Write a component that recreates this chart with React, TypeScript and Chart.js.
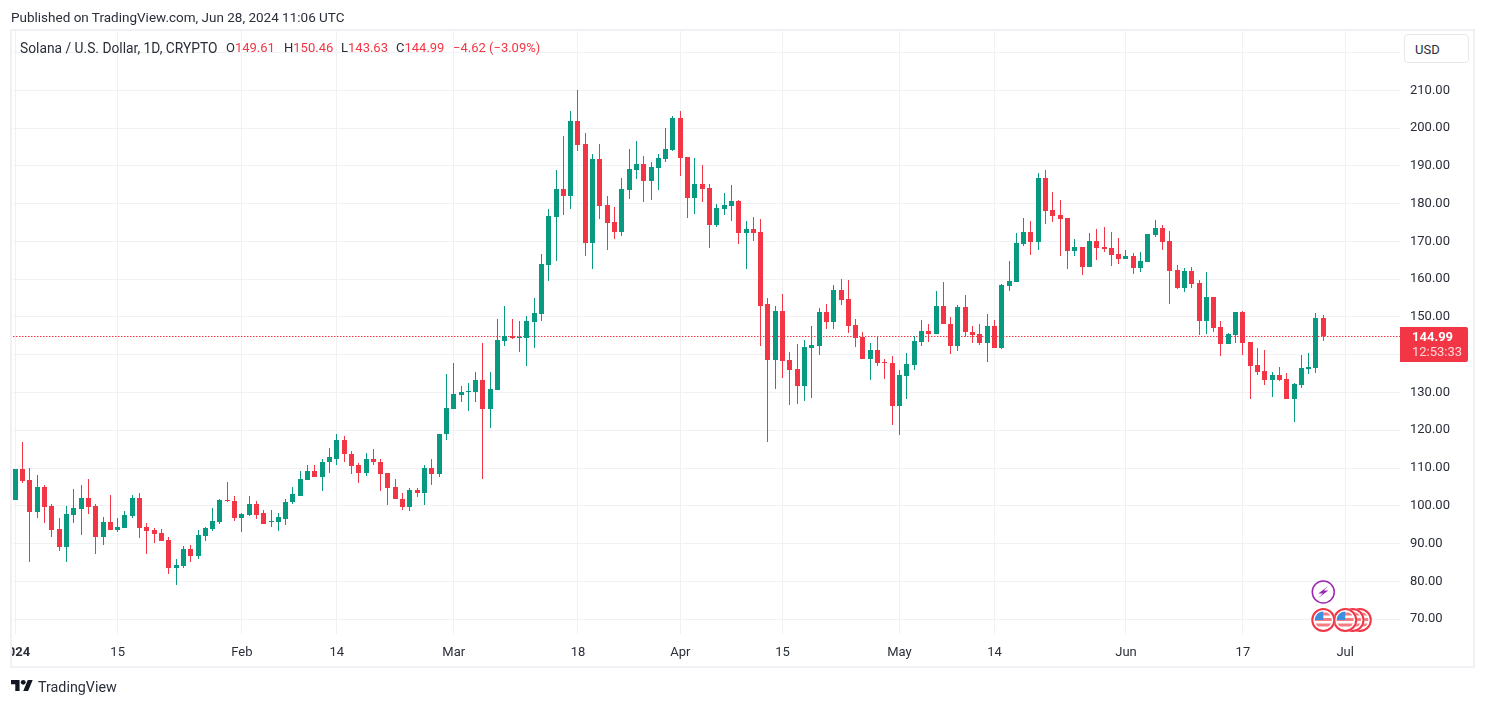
import React, { useEffect, useRef } from "react";
import { Chart, registerables } from "chart.js";

Chart.register(...registerables);

const opens = [
  101.6,109.8,106.9,98.4,105,100,93.9,89.2,97.6,99.2,
  102.1,100,91.8,95.8,93.7,94.2,97.4,102.1,94.5,93.7,
  92.9,91,83.6,84.1,88.6,86.8,92.1,93.9,95.8,101.6,
  101.3,96.8,97.6,100.6,98,95.6,95.6,96.6,100.9,102.7,
  106.7,109.1,107.5,111.5,112.5,117.3,113.8,110.7,108.8,112.5,
  111.7,108.6,105.1,101.9,99.8,104.1,103.3,110.1,108.3,118.9,
  125.7,129.4,130.2,130.2,133.4,125.5,130.7,143.7,145,144.5,
  144.5,148.7,150.8,163.8,176.5,183.9,182,201.9,195.8,169.6,
  191.8,179.7,175.2,172.6,183.7,189,190.6,186,189.5,191.9,
  194.3,202.7,192.4,181.6,185.3,184.2,174.4,178.7,179.5,180.8,
  172.3,173.4,172.6,153.3,138.5,151.6,138.7,136.3,131.8,141.8,
  142.4,151.4,148.7,157.2,154.8,147.9,144.8,138.9,141.3,138.1,
  137.9,126.5,134.4,137.3,143.4,146.3,145.5,153,148.2,142.2,
  152.7,146.1,145.6,143.2,147.7,141.9,158.2,159.3,169.3,172.5,
  169.8,186.7,178.2,176.9,176.1,167.5,168.5,163.2,170.1,168.5,
  168.2,166.7,165.3,166.1,163,164.5,171.7,173.5,170.1,162.4,
  157.7,162.2,159,148.9,155.3,147.3,142.8,145.2,151.3,143.4,
  137.3,135.7,133.3,134.6,133.6,128.3,132,136.2,136.5,149.61,
];
const highs = [
  109.8,117,110.1,108.2,105.6,100.6,96.8,100,104.5,105.6,
  107.2,100.6,97.1,102.9,96.8,98.7,102.9,103.5,95.5,94.2,
  93.9,91.8,86,89.4,89.7,93.7,94.5,99.5,101.9,106.4,
  102.7,98.2,102.7,101.3,98.8,98.8,98,101.7,105.1,109.3,
  110.9,110.7,112.3,115.2,118.9,118.6,114.4,111.2,114.1,114.9,
  112.3,108.6,107.2,103.3,104.8,104.6,110.9,112.5,119.1,135,
  137.9,131.8,132.4,135.3,143,135.3,149.5,152.9,149.5,149,
  150.3,155,166.7,178.6,188.9,197.9,204.5,210.1,198.7,193.2,
  195.8,182,179.2,186.9,194.5,196.7,192.7,191.1,193.2,200.1,
  203.3,204.6,192.4,192.2,190.3,185.3,180,182.9,184.8,181,
  175.5,176.5,176,155.1,153,156.1,140.8,142.9,144,147.7,
  152.4,153.5,158.5,160.1,159.8,149.5,146.1,143.2,144.8,138.9,
  139.7,136,140.5,145,149.2,148.2,156.9,159.3,150.1,153.2,
  155.9,147.7,148,150.9,149.3,158.8,164.8,172.2,176.1,175.3,
  188.2,188.8,183.2,180.9,176.1,170.6,168.5,172.2,173.2,173.8,
  172.5,170.9,167.7,166.9,167.2,172,175.6,174.3,172.7,163.7,
  162.9,163.2,159.8,161.9,155.3,148.9,145.7,151.3,151.6,143.4,
  141.8,141.3,135.4,136.8,135.2,132.5,139.9,140.5,151,150.46,
];
const lows = [
  101.6,106.1,85.2,96.8,95.5,91.8,87.9,85.2,95.5,92.3,
  97.9,87.1,89.7,93.7,93.1,94.2,96.8,91.6,87.1,90.2,
  90.8,82,79.1,83.4,85.2,86,90.8,93.4,95.3,101.1,
  96,93.1,97.4,96.6,95.3,94.3,93.2,94.8,100.6,102.7,
  106.7,107.5,103.8,108.6,110.9,111.7,108.3,105.9,107.8,110.9,
  103.8,100.3,101.7,98.8,98.5,102.2,100.3,105.6,107.5,117.5,
  125.7,127.6,125,127.6,107,120.5,130.7,142.3,144.2,140.8,
  137.1,141.8,149,159.6,164.8,177,178.6,193.9,166.2,162.7,
  176,167.8,170.7,171.5,181.3,186.6,180.5,181,183.7,191.1,
  194,187.4,176.3,177.3,180.5,168.3,173.9,177.1,175.5,169.4,
  162.8,170.2,142.2,117,130.8,133.9,126.8,127,127.8,128.6,
  140,146.9,146.9,153.2,145.8,142.1,138.9,133.4,137.1,133.6,
  121.5,118.8,128.3,136,142.4,143.4,145.5,148,140.3,140.9,
  144.8,143.2,142.7,138,141.9,141.4,156.9,159.3,168.8,166.4,
  167.7,174.6,175.1,166.1,162.7,166.1,161.1,163.2,165.1,167.2,
  163.5,164,165.3,161.4,161.9,164.5,171.2,167.7,153.4,157.4,
  156.6,157.7,145.2,145.5,146,139.7,142.8,143.1,139.9,128.3,
  134.6,132,128.8,133,128.3,122.2,131.2,134.9,135.2,143.63,
];
const closes = [
  109.8,106.6,98.4,105,99.8,93.7,89.2,97.9,99.5,102.1,
  99.8,91.8,95.8,93.7,94.5,97.6,102.1,94.2,93.4,92.6,
  90.8,83.6,84.4,88.6,86.8,92.3,94.2,96.1,101.6,101.3,
  96.8,97.9,100.6,97.6,95.3,95.9,96.9,101.1,103,107,
  109.1,107.5,111.7,112.8,117.3,113.6,110.4,108.8,112.5,111.5,
  108.3,104.8,101.7,99.8,104.1,103.3,110.1,108.3,119.1,126,
  129.7,130.2,130.5,133.4,125.5,131,143.9,145,144.5,144.7,
  149,151.1,164,176.8,183.9,182,201.9,195.5,169.6,191.8,
  179.4,175,172.6,184,189.2,190.6,186,189.8,192.2,194.5,
  202.7,192.2,181.6,185.3,184,174.4,178.9,179.7,180.8,172.3,
  173.4,172.3,153,138.5,151.7,138.4,136,131.8,142.1,142.6,
  151.4,148.7,157.2,154.5,147.7,144.5,138.9,141.3,137.9,137.9,
  126.5,134.7,137.6,143.7,146.3,145.5,153,148,142.2,152.7,
  145.9,145.3,143.2,147.7,141.9,158.5,159.6,169.6,172.5,169.8,
  186.7,178,176.7,175.9,167.5,168.5,163.2,170.1,168.2,168,
  166.4,165.3,166.1,163,164.8,172,173.5,169.8,162.2,157.7,
  162.2,158.7,148.9,155.3,147,142.8,145.5,151.3,143.1,137,
  135.4,133.3,134.6,133.3,128.3,132.3,136.5,136.8,149.61,144.99,
];

const xTickDays = [0, 14, 31, 44, 60, 77, 91, 105, 121, 134, 152, 168, 182];
const xTickLabels = ["2024", "15", "Feb", "14", "Mar", "18", "Apr", "15", "May", "14", "Jun", "17", "Jul"];
const yTickValues = [70, 80, 90, 100, 110, 120, 130, 140, 150, 160, 170, 180, 190, 200, 210, 220];
const lastPrice = 144.99;
const countdown = "12:53:33";
const lightningDays = [179];
const usEventDays = [184, 183, 182, 179];

const RED = "#f23645";
const GREEN = "#089981";
const GRID = "#f0f1f4";
const FRAME = "#f0f0f5";
const TEXT = "#2a2e39";
const FONT = "Roboto, sans-serif";

const colors = closes.map((c, i) => (c >= opens[i] ? GREEN : RED));

const snapBars = {
  id: "snapBars",
  afterDatasetsUpdate(chart: any) {
    chart.data.datasets.forEach((ds: any, di: number) => {
      const w = ds.barThickness;
      chart.getDatasetMeta(di).data.forEach((el: any) => {
        el.x = Math.floor(el.x) + 0.5;
        el.width = w;
        let a = Math.round(Math.min(el.y, el.base));
        let b = Math.round(Math.max(el.y, el.base));
        if (b - a < 1) b = a + 1;
        el.y = a;
        el.base = b;
      });
    });
  },
};

function drawFlag(ctx: CanvasRenderingContext2D, x: number, y: number) {
  ctx.save();
  ctx.beginPath();
  ctx.arc(x, y, 12, 0, Math.PI * 2);
  ctx.fillStyle = "#ffffff";
  ctx.fill();
  ctx.beginPath();
  ctx.arc(x, y, 11, 0, Math.PI * 2);
  ctx.strokeStyle = RED;
  ctx.lineWidth = 2;
  ctx.stroke();
  ctx.beginPath();
  ctx.arc(x, y, 8.5, 0, Math.PI * 2);
  ctx.clip();
  ctx.fillStyle = "#ffffff";
  ctx.fillRect(x - 10, y - 10, 20, 20);
  ctx.fillStyle = "#f77c80";
  for (let k = 0; k < 3; k++) ctx.fillRect(x - 10, y - 7.5 + k * 5.5, 20, 3);
  ctx.fillStyle = "#3d8fe0";
  ctx.fillRect(x - 10, y - 10, 10, 10);
  ctx.restore();
}

function drawBolt(ctx: CanvasRenderingContext2D, x: number, y: number) {
  ctx.save();
  ctx.beginPath();
  ctx.arc(x, y, 11, 0, Math.PI * 2);
  ctx.fillStyle = "#ffffff";
  ctx.fill();
  ctx.strokeStyle = "#9c27b0";
  ctx.lineWidth = 1.5;
  ctx.stroke();
  ctx.beginPath();
  ctx.moveTo(x + 5, y - 6);
  ctx.lineTo(x - 5, y + 1.5);
  ctx.lineTo(x - 0.5, y + 1.5);
  ctx.lineTo(x - 5, y + 6);
  ctx.lineTo(x + 5, y - 1.5);
  ctx.lineTo(x + 0.5, y - 1.5);
  ctx.closePath();
  ctx.fillStyle = "#9c27b0";
  ctx.fill();
  ctx.restore();
}

const priceLine = {
  id: "priceLine",
  beforeDatasetsDraw(chart: any) {
    const { ctx, chartArea, scales } = chart;
    const y = Math.round(scales.y.getPixelForValue(lastPrice)) + 0.5;
    ctx.save();
    ctx.strokeStyle = RED;
    ctx.lineWidth = 1;
    ctx.setLineDash([1.5, 1.5]);
    ctx.beginPath();
    ctx.moveTo(Math.round(chartArea.left), y);
    ctx.lineTo(Math.round(chartArea.right), y);
    ctx.stroke();
    ctx.restore();
  },
};

const overlay = {
  id: "overlay",
  afterDraw(chart: any) {
    const { ctx, chartArea, scales } = chart;
    const right = chartArea.right;
    const y = Math.round(scales.y.getPixelForValue(lastPrice));

    // clip the time label at the frame edge
    ctx.fillStyle = "#ffffff";
    ctx.fillRect(0, chartArea.bottom, chartArea.left - 2, 34);

    // frame
    ctx.strokeStyle = FRAME;
    ctx.lineWidth = 2;
    ctx.strokeRect(11, chartArea.top, 1463, 637);

    // price tag
    ctx.fillStyle = RED;
    ctx.beginPath();
    ctx.roundRect(right, y - 9, 68, 35, [0, 2, 2, 0]);
    ctx.fill();
    ctx.textAlign = "left";
    ctx.textBaseline = "middle";
    ctx.fillStyle = "#ffffff";
    ctx.font = `bold 13px ${FONT}`;
    ctx.fillText(lastPrice.toFixed(2), right + 12, y + 2);
    ctx.fillStyle = "rgba(255,255,255,0.8)";
    ctx.font = `13px ${FONT}`;
    ctx.fillText(countdown, right + 12, y + 17);

    // events
    const base = chartArea.bottom;
    lightningDays.forEach((d) => drawBolt(ctx, scales.x.getPixelForValue(d), base - 42));
    usEventDays.forEach((d) => drawFlag(ctx, scales.x.getPixelForValue(d), base - 14));
  },
};

const abs = (left: number, top: number, extra: any = {}) => ({
  position: "absolute" as const,
  left,
  top,
  font: `13px ${FONT}`,
  lineHeight: "16px",
  color: TEXT,
  whiteSpace: "pre" as const,
  ...extra,
});

const legendRed = [
  { label: "O", value: "149.61", x: 226 },
  { label: "H", value: "150.46", x: 284 },
  { label: "L", value: "143.63", x: 341 },
  { label: "C", value: "144.99", x: 396 },
];

export default function App() {
  const ref = useRef<HTMLCanvasElement>(null);
  useEffect(() => {
    const xs = closes.map((_, i) => i);
    const chart = new Chart(ref.current!, {
      type: "bar",
      data: {
        datasets: [
          {
            data: xs.map((i) => ({ x: i, y: [Math.min(opens[i], closes[i]), Math.max(opens[i], closes[i])] })),
            backgroundColor: colors,
            barThickness: 5,
            grouped: false,
            inflateAmount: 0,
          },
          {
            data: xs.map((i) => ({ x: i, y: [lows[i], highs[i]] })),
            backgroundColor: colors,
            barThickness: 1,
            grouped: false,
            inflateAmount: 0,
          },
        ] as any,
      },
      options: {
        animation: false,
        responsive: false,
        layout: { padding: { left: 13, top: 30, right: 11, bottom: 39 } },
        plugins: { legend: { display: false }, tooltip: { enabled: false } },
        scales: {
          x: {
            type: "linear",
            offset: false,
            min: -0.319,
            max: 189.5,
            border: { display: false },
            grid: { color: GRID, drawTicks: false, offset: false },
            afterBuildTicks: (s: any) => {
              s.ticks = xTickDays.map((v) => ({ value: v }));
            },
            afterFit: (s: any) => {
              s.height = 33;
              s.paddingLeft = 0;
              s.paddingRight = 0;
            },
            ticks: {
              autoSkip: false,
              maxRotation: 0,
              padding: 11,
              color: TEXT,
              font: (c: any) => ({ family: FONT, size: 13, weight: c.tick && c.tick.value === 0 ? "bold" : "normal" }),
              callback: (v: any) => xTickLabels[xTickDays.indexOf(v)] ?? "",
            },
          },
          y: {
            type: "linear",
            position: "right",
            min: 66.05,
            max: 225.97,
            border: { display: false },
            grid: { color: GRID, drawTicks: false },
            afterBuildTicks: (s: any) => {
              s.ticks = yTickValues.map((v) => ({ value: v }));
            },
            afterFit: (s: any) => {
              s.width = 74;
              s.paddingTop = 0;
              s.paddingBottom = 0;
            },
            ticks: {
              autoSkip: false,
              crossAlign: "near",
              padding: 10,
              color: TEXT,
              font: { family: FONT, size: 13 },
              callback: (v: any) => (v >= 220 ? "" : Number(v).toFixed(2)),
            },
          },
        } as any,
      },
      plugins: [snapBars, priceLine, overlay],
    } as any);
    return () => chart.destroy();
  }, []);

  return (
    <div style={{ position: "absolute", left: 0, top: 0, width: 1485, height: 706, background: "#fff", overflow: "hidden" }}>
      <canvas ref={ref} width={1485} height={706} style={{ position: "absolute", left: 0, top: 0, display: "block" }} />
      <div style={abs(11, 9, { fontSize: "13.5px" })}>Published on TradingView.com, Jun 28, 2024 11:06 UTC</div>
      <div style={abs(20, 40, { fontSize: "13.8px" })}>Solana / U.S. Dollar, 1D, CRYPTO</div>
      {legendRed.map((l) => (
        <div key={l.label} style={abs(l.x, 40)}>
          {l.label}
          <span style={{ color: RED }}>{l.value}</span>
        </div>
      ))}
      <div style={abs(453, 40, { color: RED })}>−4.62 (−3.09%)</div>
      <div
        style={abs(1404, 34, {
          width: 65,
          height: 29,
          border: "1px solid #e8e8ec",
          borderRadius: 4,
          boxSizing: "border-box",
          lineHeight: "29px",
          paddingLeft: 10,
          background: "#fff",
        })}
      >
        USD
      </div>
      <svg style={{ position: "absolute", left: 11, top: 677 }} width="22" height="18" viewBox="0 0 36 28">
        <path d="M14 22H7V11H0V4h14v18zM28 22h-8l7.5-18h8L28 22z" fill="#131722" />
        <circle cx="20" cy="8" r="4" fill="#131722" />
      </svg>
      <div style={abs(38, 679, { fontSize: "14.3px" })}>TradingView</div>
    </div>
  );
}
